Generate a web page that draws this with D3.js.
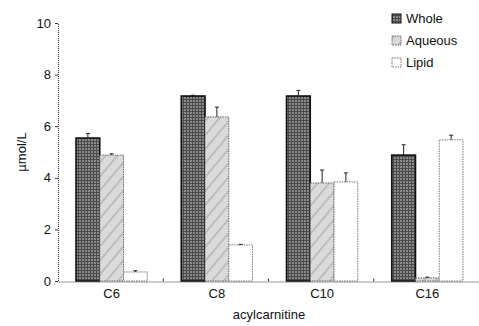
<!DOCTYPE html>
<html lang="en">
<head>
<meta charset="UTF-8">
<title>acylcarnitine</title>
<script src="https://d3js.org/d3.v7.min.js"></script>
<style>
  body{ margin:0; background:#fff; }
  svg text{ font-family:"Liberation Sans", Arial, sans-serif; fill:#111; }
</style>
</head>
<body>
<script>
    // data
    const categories = ["C6", "C8", "C10", "C16"];
    const series = ["Whole", "Aqueous", "Lipid"];
    const wholeVals = [5.54, 7.17, 7.17, 4.88];
    const wholeErr = [0.18, 0.03, 0.22, 0.40];
    const aqueousVals = [4.88, 6.36, 3.80, 0.12];
    const aqueousErr = [0.05, 0.38, 0.50, 0.03];
    const lipidVals = [0.35, 1.40, 3.84, 5.47];
    const lipidErr = [0.05, 0.02, 0.35, 0.18];
    const yTicks = [0, 2, 4, 6, 8, 10];

    const width = 479, height = 326;
    const margin = {top: 23, right: 0, bottom: 45, left: 59};

    const svg = d3.select("body").append("svg")
        .attr("width", width)
        .attr("height", height);

    // fill textures, like the scanned print
    const defs = svg.append("defs");
    const pWhole = defs.append("pattern").attr("id", "pWhole")
        .attr("width", 3).attr("height", 3).attr("patternUnits", "userSpaceOnUse");
    pWhole.append("rect").attr("width", 3).attr("height", 3).attr("fill", "#8a8a8a");
    pWhole.append("rect").attr("width", 3).attr("height", 1).attr("fill", "#4a4a4a");
    pWhole.append("rect").attr("width", 1).attr("height", 3).attr("fill", "#4a4a4a");

    const pAq = defs.append("pattern").attr("id", "pAq")
        .attr("width", 9).attr("height", 9).attr("patternUnits", "userSpaceOnUse")
        .attr("patternTransform", "rotate(-50)");
    pAq.append("rect").attr("width", 9).attr("height", 9).attr("fill", "#dadada");
    pAq.append("rect").attr("width", 9).attr("height", 2).attr("fill", "#bdbdbd");

    const fills = {Whole: "url(#pWhole)", Aqueous: "url(#pAq)", Lipid: "#fff"};
    const strokes = {Whole: "#111", Aqueous: "#666", Lipid: "#777"};
    const dashes = {Whole: null, Aqueous: "1.5,1", Lipid: "1.5,1"};

    const rows = [];
    categories.forEach((c, i) => {
        rows.push({cat: c, s: "Whole", v: wholeVals[i], e: wholeErr[i]});
        rows.push({cat: c, s: "Aqueous", v: aqueousVals[i], e: aqueousErr[i]});
        rows.push({cat: c, s: "Lipid", v: lipidVals[i], e: lipidErr[i]});
    });

    const x = d3.scaleBand()
        .domain(categories)
        .range([margin.left, width + 1])
        .paddingInner(0).paddingOuter(0);
    const xs = d3.scaleBand()
        .domain(series)
        .range([17, x.bandwidth() - 17]);
    const y = d3.scaleLinear()
        .domain([0, 10])
        .range([height - margin.bottom, margin.top]);

    const g = svg.append("g");

    // bars
    g.selectAll("rect.bar")
        .data(rows)
        .join("rect")
        .attr("class", "bar")
        .attr("x", d => x(d.cat) + xs(d.s))
        .attr("y", d => y(d.v))
        .attr("width", xs.bandwidth())
        .attr("height", d => y(0) - y(d.v))
        .attr("fill", d => fills[d.s])
        .attr("stroke", d => strokes[d.s])
        .attr("stroke-width", d => d.s === "Whole" ? 1.6 : 1)
        .attr("stroke-dasharray", d => dashes[d.s]);

    // error bars (upper half only)
    const eb = g.selectAll("g.err").data(rows).join("g").attr("class", "err")
        .attr("transform", d => `translate(${x(d.cat) + xs(d.s) + xs.bandwidth() / 2},0)`);
    eb.append("line")
        .attr("y1", d => y(d.v)).attr("y2", d => y(d.v + d.e))
        .attr("stroke", "#222").attr("stroke-width", 1);
    eb.append("line")
        .attr("x1", -2).attr("x2", 2)
        .attr("y1", d => y(d.v + d.e)).attr("y2", d => y(d.v + d.e))
        .attr("stroke", "#222").attr("stroke-width", 1);

    // y axis
    const yAxis = svg.append("g")
        .attr("transform", `translate(${margin.left - 1},0)`)
        .call(d3.axisLeft(y).tickValues(yTicks).tickSize(3).tickPadding(4));
    yAxis.select(".domain").attr("stroke", "#333").attr("stroke-dasharray", "1,1");
    yAxis.selectAll(".tick line").attr("stroke", "#333");
    yAxis.selectAll("text").attr("font-size", 13).attr("fill", "#111");

    // x axis
    const xAxis = svg.append("g")
        .attr("transform", `translate(0,${y(0) + 0.5})`)
        .call(d3.axisBottom(x).tickSize(0).tickPadding(7));
    xAxis.select(".domain").attr("stroke", "#333").attr("stroke-dasharray", "1,1");
    xAxis.selectAll("text").attr("font-size", 13).attr("fill", "#111");
    // small marks between groups
    xAxis.selectAll("line.sep")
        .data(categories.slice(1))
        .join("line")
        .attr("class", "sep")
        .attr("x1", d => x(d) - 1).attr("x2", d => x(d) - 1)
        .attr("y1", 0).attr("y2", -3)
        .attr("stroke", "#333");

    // axis titles
    svg.append("text")
        .attr("x", (margin.left + width) / 2)
        .attr("y", 319)
        .attr("text-anchor", "middle")
        .attr("font-size", 13)
        .text("acylcarnitine");
    svg.append("text")
        .attr("transform", `translate(26,${(y(0) + y(10)) / 2}) rotate(-90)`)
        .attr("text-anchor", "middle")
        .attr("font-size", 13)
        .text("µmol/L");

    // legend
    const lg = svg.append("g").attr("transform", "translate(392,15)");
    const li = lg.selectAll("g").data(series).join("g")
        .attr("transform", (d, i) => `translate(0,${i * 22})`);
    li.append("rect")
        .attr("width", 9).attr("height", 9).attr("y", -1)
        .attr("fill", d => fills[d])
        .attr("stroke", d => strokes[d])
        .attr("stroke-dasharray", d => dashes[d]);
    li.append("text")
        .attr("x", 14).attr("y", 8)
        .attr("font-size", 13)
        .text(d => d);
</script>
</body>
</html>
